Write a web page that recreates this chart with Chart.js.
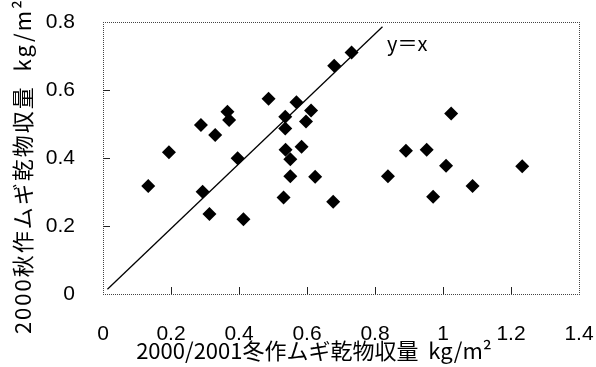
<!DOCTYPE html>
<html>
<head>
<meta charset="utf-8">
<script src="https://cdn.jsdelivr.net/npm/chart.js@4.4.0/dist/chart.umd.min.js"></script>
<style>
  body { margin: 0; background: #fff; }
  #wrap { width: 596px; height: 367px; }
</style>
</head>
<body>
<div id="wrap"><canvas id="yieldchart"></canvas></div>
<script>
// winter crop yield 2000/2001 (x) vs autumn crop yield 2000 (y), kg/m2
const winterYield = [0.133, 0.194, 0.288, 0.293, 0.313, 0.330, 0.366, 0.371, 0.396, 0.413,
    0.487, 0.531, 0.536, 0.536, 0.537, 0.551, 0.551, 0.569, 0.584, 0.597,
    0.612, 0.624, 0.677, 0.680, 0.731, 0.838, 0.891, 0.952, 0.971, 1.009,
    1.024, 1.087, 1.233];
const autumnYield = [0.318, 0.417, 0.497, 0.301, 0.235, 0.468, 0.536, 0.512, 0.399, 0.220,
    0.574, 0.284, 0.521, 0.487, 0.424, 0.396, 0.346, 0.564, 0.433, 0.507,
    0.540, 0.345, 0.271, 0.671, 0.710, 0.346, 0.421, 0.424, 0.286, 0.377,
    0.531, 0.318, 0.376];

// y = x reference line, end points as drawn
const lineX = [0.013, 0.822];
const lineY = [0.014, 0.786];

const xTicks = ['0', '0.2', '0.4', '0.6', '0.8', '1', '1.2', '1.4'];
const yTicks = ['0', '0.2', '0.4', '0.6', '0.8'];

const xTitle = '2000/2001冬作ムギ乾物収量  kg/m²';
const yTitle = '2000秋作ムギ乾物収量  kg/m²';
const lineLabel = 'y＝x';

const jpFont = '"Noto Sans CJK JP", sans-serif';
const tickFont = { family: '"Liberation Sans", Arial', size: 21 };

// dotted frame and inward tick marks, drawn as small filled rects
const frame = {
    id: 'frame',
    afterDraw(chart) {
        const c = chart.ctx;
        const a = chart.chartArea;
        const xs = chart.scales.x;
        const ys = chart.scales.y;
        const L = Math.round(a.left), R = Math.round(a.right);
        const T = Math.round(a.top), B = Math.round(a.bottom);
        c.save();
        c.fillStyle = '#444';
        for (let x = L; x <= R; x += 2) {
            c.fillRect(x, T, 1, 1);
            c.fillRect(x, B, 1, 1);
        }
        for (let y = T; y <= B; y += 2) {
            c.fillRect(L, y, 1, 1);
            c.fillRect(R, y, 1, 1);
        }
        c.fillStyle = '#222';
        for (let i = 1; i < xs.ticks.length - 1; i++) {
            c.fillRect(Math.round(xs.getPixelForTick(i)), B - 7, 1, 7);
        }
        for (let i = 1; i < ys.ticks.length - 1; i++) {
            c.fillRect(L, Math.round(ys.getPixelForTick(i)), 7, 1);
        }
        c.restore();
    }
};

// axis titles and the y=x label
const titles = {
    id: 'titles',
    afterDraw(chart) {
        const c = chart.ctx;
        c.save();
        c.fillStyle = '#000';
        c.font = '22px ' + jpFont;
        c.textAlign = 'center';
        c.textBaseline = 'middle';
        c.fillText(xTitle, 314, 351);

        c.font = '20px ' + jpFont;
        c.textAlign = 'left';
        c.fillText(lineLabel, 387, 43);

        c.translate(23, 166);
        c.rotate(-Math.PI / 2);
        c.font = '22px ' + jpFont;
        c.textAlign = 'center';
        c.letterSpacing = '2px';
        c.fillText(yTitle, 0, 0);
        c.restore();
    }
};

const ctx = document.getElementById('yieldchart').getContext('2d');
new Chart(ctx, {
    type: 'scatter',
    data: {
        datasets: [{
                label: 'yield',
                data: winterYield.map((v, i) => ({ x: v, y: autumnYield[i] })),
                pointStyle: 'rectRot',
                pointRadius: 7,
                backgroundColor: '#000',
                borderColor: '#000',
                borderWidth: 0
            },
            {
                label: 'y=x',
                data: lineX.map((v, i) => ({ x: v, y: lineY[i] })),
                showLine: true,
                pointRadius: 0,
                borderColor: '#000',
                borderWidth: 1.3,
                fill: false
            }
        ]
    },
    options: {
        responsive: true,
        maintainAspectRatio: false,
        animation: false,
        layout: { padding: { left: 0, top: 22, right: 17, bottom: 0 } },
        plugins: {
            legend: { display: false },
            tooltip: { enabled: false }
        },
        scales: {
            x: {
                min: 0,
                max: 1.4,
                grid: { display: false },
                border: { display: false },
                afterFit: scale => {
                    scale.height = 73;
                    scale.paddingLeft = 0;
                    scale.paddingRight = 0;
                },
                ticks: {
                    stepSize: 0.2,
                    padding: 20,
                    maxRotation: 0,
                    color: '#000',
                    font: tickFont,
                    callback: (v, i) => xTicks[i]
                }
            },
            y: {
                min: 0,
                max: 0.8,
                grid: { display: false },
                border: { display: false },
                afterFit: scale => {
                    scale.width = 103;
                    scale.paddingTop = 0;
                    scale.paddingBottom = 0;
                },
                ticks: {
                    stepSize: 0.2,
                    padding: 20,
                    color: '#000',
                    font: tickFont,
                    callback: (v, i) => yTicks[i]
                }
            }
        }
    },
    plugins: [frame, titles]
});
</script>
</body>
</html>
